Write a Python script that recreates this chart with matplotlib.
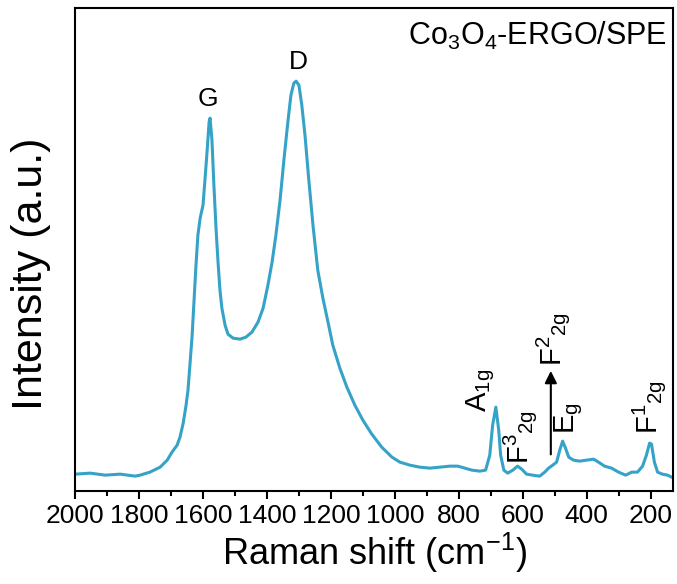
import matplotlib.pyplot as plt
from matplotlib.ticker import MultipleLocator

plt.rcParams['font.family'] = ['Liberation Sans', 'DejaVu Sans']
plt.rcParams['mathtext.fontset'] = 'custom'
plt.rcParams['mathtext.rm'] = 'Liberation Sans'
plt.rcParams['mathtext.it'] = 'Liberation Sans'
plt.rcParams['mathtext.bf'] = 'Liberation Sans:bold'

# Raman spectrum (cm-1, a.u.)
shift = [2000, 1953, 1906, 1859, 1812, 1797, 1766, 1734, 1712, 1697, 1681, 1672,
         1662, 1653, 1647, 1641, 1634, 1628, 1622, 1616, 1609, 1600, 1594, 1587,
         1581, 1578, 1572, 1566, 1559, 1553, 1547, 1541, 1531, 1522, 1506, 1484,
         1466, 1447, 1428, 1412, 1397, 1384, 1372, 1359, 1347, 1334, 1325, 1316,
         1309, 1300, 1291, 1281, 1269, 1256, 1241, 1225, 1209, 1194, 1172, 1150,
         1125, 1100, 1072, 1041, 1009, 984, 953, 922, 891, 859, 828, 803, 781,
         759, 734, 716, 703, 694, 684, 675, 669, 659, 647, 631, 616, 603, 588,
         569, 547, 531, 519, 506, 494, 484, 475, 466, 456, 441, 422, 400, 378,
         363, 344, 322, 300, 278, 259, 241, 225, 213, 203, 197, 188, 178, 163,
         147, 134]
intensity = [17, 18, 16, 17, 15, 16, 19, 24, 31, 39, 46, 54,
             68, 86, 101, 126, 156, 191, 226, 256, 273, 286, 311, 341,
             369, 373, 351, 306, 261, 229, 201, 183, 166, 157, 153, 152,
             154, 159, 169, 183, 206, 229, 256, 291, 331, 371, 396, 408,
             410, 406, 386, 356, 311, 266, 221, 193, 169, 146, 123, 104,
             86, 71, 57, 44, 34, 29, 26, 24, 23, 24, 25, 25, 23,
             21, 20, 21, 36, 66, 84, 61, 36, 21, 18, 21, 25, 22, 17,
             16, 15, 19, 23, 26, 29, 41, 50, 43, 34, 31, 30, 31, 32,
             29, 25, 23, 19, 16, 19, 19, 25, 36, 48, 47, 29, 19, 17,
             16, 14]

# peak labels: text, x, y (bottom of rotated label)
peak_labels = [r'A$_{1g}$', r'F$^{3}$$_{2g}$', r'E$_{g}$', r'F$^{2}$$_{2g}$', r'F$^{1}$$_{2g}$']
peak_x = [730, 609, 455, 505, 205]
peak_y = [79, 27, 57, 125, 57]

fig, ax = plt.subplots(figsize=(6.77, 5.84), dpi=100)
fig.subplots_adjust(left=0.111, right=0.994, bottom=0.159, top=0.986)

ax.plot(shift, intensity, color='#35a3c7', linewidth=2.2)

ax.set_xlim(2000, 130)
ax.set_ylim(0, 483)
ax.xaxis.set_major_locator(MultipleLocator(200))
ax.xaxis.set_minor_locator(MultipleLocator(100))
ax.tick_params(axis='x', which='major', labelsize=19, length=6, width=1.5, direction='out')
ax.tick_params(axis='x', which='minor', length=3.5, width=1.5, direction='out')
ax.set_yticks([])
for s in ax.spines.values():
    s.set_linewidth(1.5)

ax.set_xlabel(r'Raman shift (cm$^{-1}$)', fontsize=26, labelpad=2)
ax.set_ylabel('Intensity (a.u.)', fontsize=31)
ax.yaxis.set_label_coords(-0.04, 0.45)

ax.text(1584, 380, 'G', fontsize=19, ha='center', va='bottom')
ax.text(1303, 417, 'D', fontsize=19, ha='center', va='bottom')
ax.text(0.99, 0.975, r'Co$_3$O$_4$-ERGO/SPE', transform=ax.transAxes,
        fontsize=22, ha='right', va='top')

for lab, px, py in zip(peak_labels, peak_x, peak_y):
    ax.text(px, py, lab, fontsize=21, rotation=90, ha='center', va='bottom')

ax.annotate('', xy=(512, 123), xytext=(512, 34),
            arrowprops=dict(arrowstyle='-|>', color='black', lw=1.5, mutation_scale=18))

plt.savefig('out.png', dpi=100)
